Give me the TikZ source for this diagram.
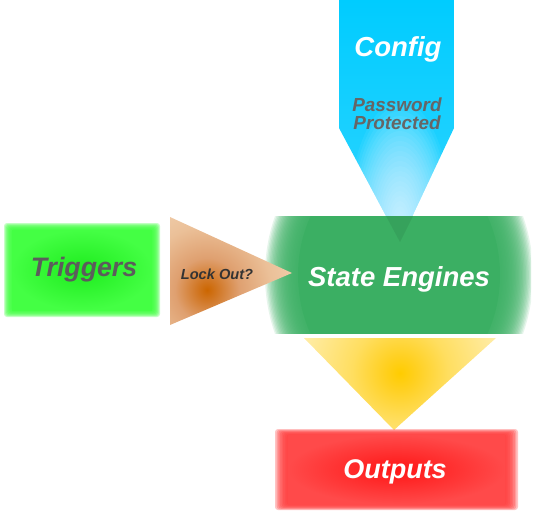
\documentclass[tikz,border=0pt]{standalone}
\usepackage{fontspec}
\setmainfont{Liberation Sans}
\definecolor{trigin}{HTML}{1EEC1E}
\definecolor{trigout}{HTML}{44FF44}
\definecolor{trigedge}{HTML}{40FF40}
\definecolor{seng}{HTML}{3BAF63}
\definecolor{cfgtop}{HTML}{00CCFF}
\definecolor{cfgbot}{HTML}{30D4FF}
\definecolor{outin}{HTML}{FF1616}
\definecolor{outout}{HTML}{FF4A4A}
\definecolor{outedge}{HTML}{FF3C3C}
\definecolor{txtgray}{HTML}{5C5C5C}
\definecolor{txtdark}{HTML}{333333}
\definecolor{txtpw}{HTML}{666666}
\definecolor{lockA}{HTML}{CC6600}
\definecolor{lockB}{HTML}{D27A2A}
\definecolor{lockC}{HTML}{DFA070}
\definecolor{lockD}{HTML}{EBC098}
\definecolor{lockE}{HTML}{F4DABE}
\definecolor{lockF}{HTML}{FAEBDC}
\definecolor{yelA}{HTML}{FFCC00}
\definecolor{yelB}{HTML}{FFD020}
\definecolor{yelC}{HTML}{FFDE60}
\definecolor{yelD}{HTML}{FFECA5}
\definecolor{yelE}{HTML}{FFF7D8}
\definecolor{yelF}{HTML}{FFFDF3}
\pgfdeclareradialshading{lockshade}{\pgfpoint{0bp}{0bp}}{color(0bp)=(lockA); color(3bp)=(lockB); color(8bp)=(lockC); color(16bp)=(lockD); color(30bp)=(lockE); color(50bp)=(lockF)}
\pgfdeclareradialshading{yelshade}{\pgfpoint{0bp}{0bp}}{color(0bp)=(yelA); color(4bp)=(yelB); color(12bp)=(yelC); color(25bp)=(yelD); color(40bp)=(yelE); color(50bp)=(yelF)}
\newcommand\softrect[7]{%
  \foreach \k in {0,...,7}{%
    \fill[#1,fill opacity=0.3,rounded corners=3pt] ({#2+#6*\k/8},{#3+#7*\k/8}) rectangle ({#4-#6*\k/8},{#5-#7*\k/8});
  }}
\tikzset{
  lbl/.style={inner sep=0pt, anchor=base, font=\bfseries\itshape},
  bigwhite/.style={lbl, text=white, font=\fontsize{27.5}{30}\selectfont\bfseries\itshape},
}
\begin{document}
\begin{tikzpicture}[x=1pt,y=-1pt]
\useasboundingbox (0,0) rectangle (536,512);
% Config arrow
\begin{scope}
  \clip (339,0) -- (454,0) -- (454,128) -- (400,242) -- (339,128) -- cycle;
  \shade[top color=cfgtop, bottom color=cfgbot] (339,0) rectangle (454,242);
  \foreach \k in {0,...,23}{%
    \fill[white,fill opacity=0.055] (400,226) ellipse [x radius={52pt-2.1pt*\k}, y radius={125pt-5pt*\k}];
  }
\end{scope}
% State Engines
\begin{scope}
  \clip (265,216) rectangle (531,333);
  \foreach \k in {0,...,23}{%
    \fill[seng,fill opacity=0.13] (399,275) ellipse [x radius={134pt-1.4pt*\k}, y radius={155pt-1.4pt*\k}];
  }
  \fill[seng] (399,275) ellipse [x radius=101pt, y radius=122pt];
\end{scope}
\fill[black,fill opacity=0.07] (386,216) -- (413,216) -- (400,242) -- cycle;
% Lock Out triangle
\begin{scope}
  \clip (170,217) -- (292,273) -- (170,325) -- cycle;
  \shade[shading=lockshade] (107,190) rectangle (307,390);
\end{scope}
% Yellow triangle
\begin{scope}
  \clip (304,338) -- (496,338) -- (394,430) -- cycle;
  \shade[shading=yelshade] (300,273) rectangle (500,473);
\end{scope}
% Triggers box
\softrect{trigedge}{4}{223}{160}{317}{8}{7}
\shade[inner color=trigin, outer color=trigout] (12,230) rectangle (152,310);
% Outputs box
\softrect{outedge}{275}{429}{518}{510}{13}{6}
\shade[inner color=outin, outer color=outout] (288,435) rectangle (505,504);
% Texts
\node[bigwhite] (config) at (398,56) {Config};
\node[lbl, text=txtpw, align=center, font=\fontsize{18.9}{18}\selectfont\bfseries\itshape] (pw) at (397,129) {Password\\Protected};
\node[lbl, text=txtgray, font=\fontsize{26.7}{30}\selectfont\bfseries\itshape] (trig) at (84,276) {Triggers};
\node[lbl, text=txtdark, font=\fontsize{14.6}{16}\selectfont\bfseries\itshape] (lock) at (217,279) {Lock Out?};
\node[bigwhite] (state) at (399,286) {State Engines};
\node[bigwhite, font=\fontsize{27}{30}\selectfont\bfseries\itshape] (out) at (395,478) {Outputs};
\end{tikzpicture}
\end{document}
